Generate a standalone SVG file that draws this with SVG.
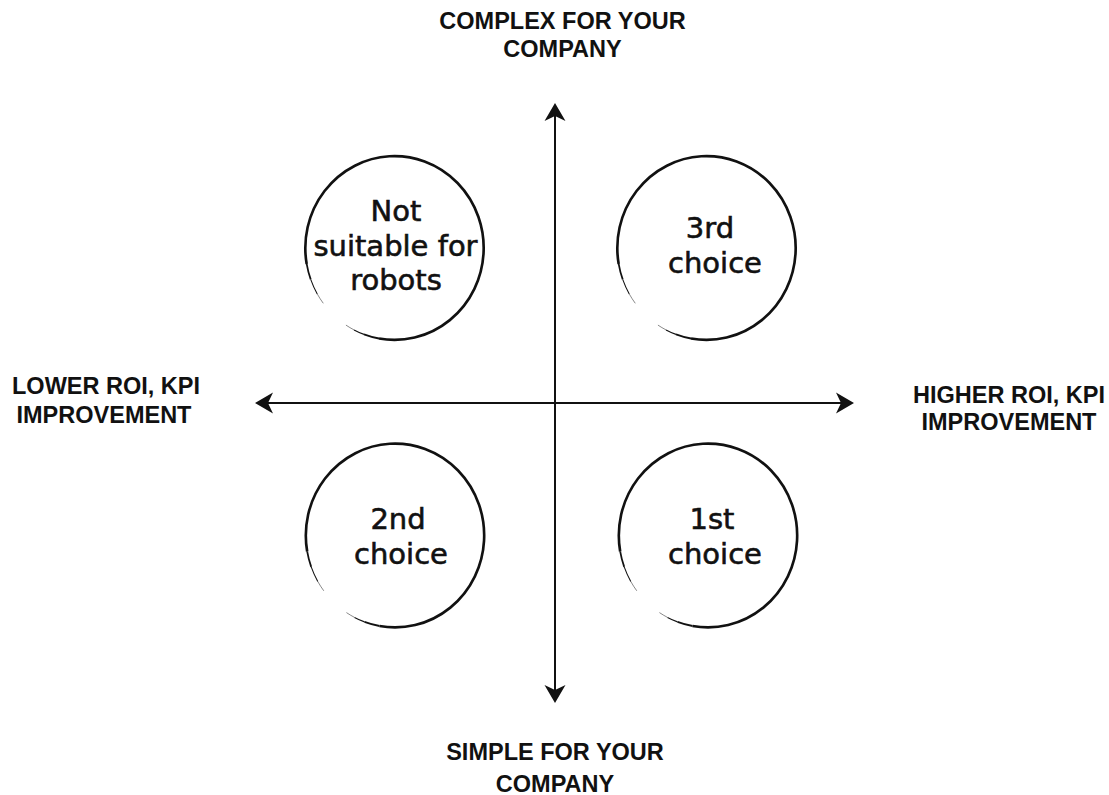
<svg xmlns="http://www.w3.org/2000/svg" xmlns:xlink="http://www.w3.org/1999/xlink" width="1109" height="795" viewBox="0 0 1109 795">
<style>
.axis{stroke:#111;stroke-width:2;fill:none}
.ring path{stroke:#111;fill:none;stroke-linecap:butt}
.lbl{font-family:"Liberation Sans",Arial,sans-serif;font-weight:bold;font-size:23.5px;fill:#111;text-anchor:middle}
.ct{font-family:"DejaVu Sans","Noto Sans",sans-serif;font-size:29px;fill:#111;stroke:#111;stroke-width:0.6;text-anchor:middle}
</style>
<defs>
<marker id="ah" markerUnits="userSpaceOnUse" markerWidth="30" markerHeight="30" viewBox="-22 -14 30 28" refX="-8" refY="0" orient="auto-start-reverse">
<path d="M0,0 L-18,-10.5 L-13,0 L-18,10.5 Z" fill="#111"/>
</marker>
<g id="ring" class="ring">
<path stroke-width="2.7" d="M-89.62,15.80 A91,91 0 1 1 -15.80,89.62"/>
<path stroke-width="1.8" d="M-85.51,31.12 A91,91 0 0 1 -89.62,15.80"/>
<path stroke-width="1.1" d="M-78.81,45.5 A91,91 0 0 1 -85.51,31.12"/>
<path stroke-width="0.5" d="M-72.68,54.76 A91,91 0 0 1 -78.81,45.5"/>
<path stroke-width="1.8" d="M-15.80,89.62 A91,91 0 0 1 -31.12,85.51"/>
<path stroke-width="1.1" d="M-31.12,85.51 A91,91 0 0 1 -41.31,81.08"/>
<path stroke-width="0.5" d="M-41.31,81.08 A91,91 0 0 1 -49.56,76.32"/>
</g>
</defs>
<rect width="1109" height="795" fill="#fff"/>
<g id="connectors">
<path class="axis" d="M555,111 L555,695" marker-start="url(#ah)" marker-end="url(#ah)"/>
<path class="axis" d="M263,403 L846,403" marker-start="url(#ah)" marker-end="url(#ah)"/>
</g>
<g id="label-top">
<text class="lbl" x="562.5" y="29">COMPLEX FOR YOUR</text>
<text class="lbl" x="562.5" y="57">COMPANY</text>
</g>
<g id="label-bottom">
<text class="lbl" x="555" y="760">SIMPLE FOR YOUR</text>
<text class="lbl" x="555" y="792">COMPANY</text>
</g>
<g id="label-left">
<text class="lbl" x="106" y="394">LOWER ROI, KPI</text>
<text class="lbl" x="104" y="423">IMPROVEMENT</text>
</g>
<g id="label-right">
<text class="lbl" x="1009" y="403">HIGHER ROI, KPI</text>
<text class="lbl" x="1009" y="430">IMPROVEMENT</text>
</g>
<g id="node-not-suitable">
<use xlink:href="#ring" transform="translate(394.5 248) scale(0.98 1.01)"/>
<text class="ct" x="396" y="221">Not</text>
<text class="ct" x="395.5" y="256">suitable for</text>
<text class="ct" x="396" y="290">robots</text>
</g>
<g id="node-3rd">
<use xlink:href="#ring" transform="translate(706.5 248) scale(0.98 1.01)"/>
<text class="ct" x="710" y="238">3rd</text>
<text class="ct" x="715" y="273">choice</text>
</g>
<g id="node-2nd">
<use xlink:href="#ring" transform="translate(395 535.5) scale(0.98 1.01)"/>
<text class="ct" x="398" y="529">2nd</text>
<text class="ct" x="401" y="564">choice</text>
</g>
<g id="node-1st">
<use xlink:href="#ring" transform="translate(708 535.5) scale(0.98 1.01)"/>
<text class="ct" x="712" y="529">1st</text>
<text class="ct" x="715" y="564">choice</text>
</g>
</svg>
